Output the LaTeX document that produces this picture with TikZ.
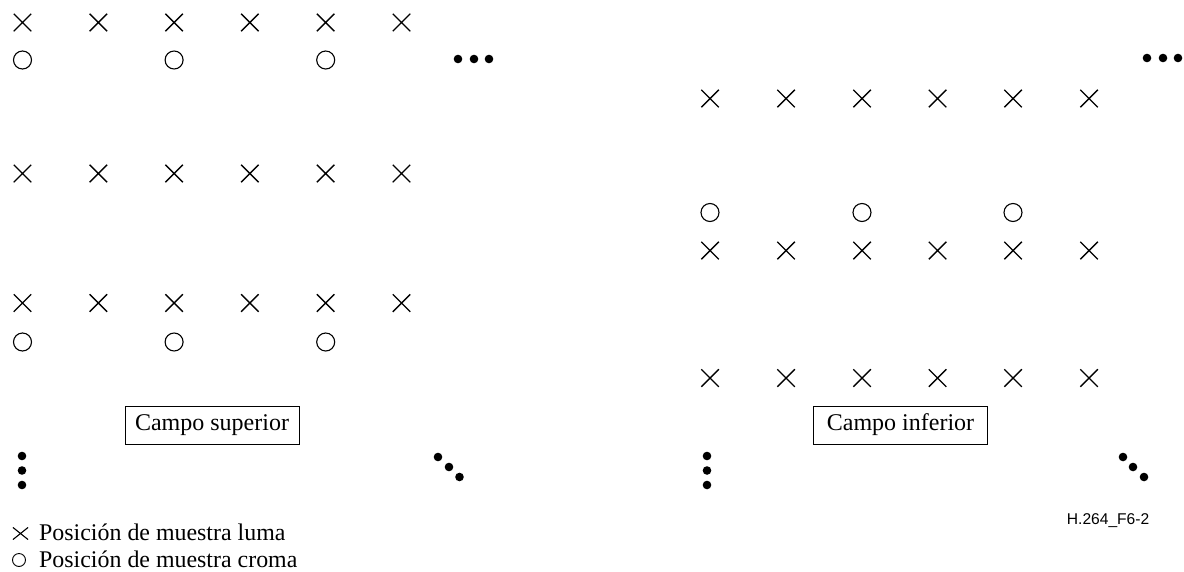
\documentclass[tikz,border=0pt]{standalone}
\usepackage{fontspec}
\setmainfont{Liberation Serif}
\newfontfamily\labelsans{Liberation Sans}
\usetikzlibrary{shapes.misc}
\tikzset{
  luma/.style={cross out, draw, line width=1.4pt, minimum size=17.5pt, inner sep=0pt, outer sep=0pt},
  croma/.style={circle, draw, line width=1.1pt, minimum size=18pt, inner sep=0pt, outer sep=0pt},
  dotmark/.style={circle, fill, minimum size=8.6pt, inner sep=0pt},
  fieldbox/.style={draw, line width=1pt, minimum width=174pt, minimum height=38pt, inner sep=0pt, font=\fontsize{24}{28}\selectfont},
  legendtext/.style={anchor=base west, inner sep=0pt, font=\fontsize{23.9}{28}\selectfont},
  legendluma/.style={cross out, draw, line width=1.1pt, minimum width=14pt, minimum height=11pt, inner sep=0pt},
  legendcroma/.style={circle, draw, line width=0.9pt, minimum size=13pt, inner sep=0pt},
  figlabel/.style={anchor=base west, inner sep=0pt, font=\labelsans\fontsize{15.6}{18}\selectfont}
}
\begin{document}
\begin{tikzpicture}[x=1pt,y=-1pt]
\useasboundingbox (0,0) rectangle (1184,571);
% ---- Campo superior (left) ----
\foreach \i/\x in {1/22.5,2/98.3,3/174.1,4/249.9,5/325.7,6/401.5} {
  \node[luma] (La\i) at (\x,22.5) {};
  \node[luma] (Lb\i) at (\x,173.5) {};
  \node[luma] (Lc\i) at (\x,303) {};
}
\foreach \i/\x in {1/22.5,2/174.1,3/325.7} {
  \node[croma] (LCa\i) at (\x,60) {};
  \node[croma] (LCb\i) at (\x,342) {};
}
\node[dotmark] (LH1) at (458,59) {};
\node[dotmark] (LH2) at (474,59) {};
\node[dotmark] (LH3) at (489,59) {};
\node[fieldbox] (sup) at (212,425) {Campo superior};
\node[dotmark] (LV1) at (22,456) {};
\node[dotmark] (LV2) at (22,470.5) {};
\node[dotmark] (LV3) at (22,485) {};
\node[dotmark] (LD1) at (438,457) {};
\node[dotmark] (LD2) at (449,467) {};
\node[dotmark] (LD3) at (459.5,477) {};
% ---- Campo inferior (right) ----
\foreach \i/\x in {1/710,2/786,3/862,4/937.5,5/1013,6/1089} {
  \node[luma] (Ra\i) at (\x,98.5) {};
  \node[luma] (Rb\i) at (\x,250.5) {};
  \node[luma] (Rc\i) at (\x,378) {};
}
\foreach \i/\x in {1/710,2/862,3/1013} {
  \node[croma] (RC\i) at (\x,212.5) {};
}
\node[dotmark] (RH1) at (1147,58) {};
\node[dotmark] (RH2) at (1163,58) {};
\node[dotmark] (RH3) at (1178,58) {};
\node[fieldbox] (inf) at (900.5,425) {Campo inferior};
\node[dotmark] (RV1) at (707,456) {};
\node[dotmark] (RV2) at (707,470.5) {};
\node[dotmark] (RV3) at (707,485) {};
\node[dotmark] (RD1) at (1123,457) {};
\node[dotmark] (RD2) at (1133,467) {};
\node[dotmark] (RD3) at (1144,477) {};
% ---- label ----
\node[figlabel] (fig) at (1066.7,524) {H.264\_F6-2};
% ---- legend ----
\node[legendluma] (kl) at (20.5,533.5) {};
\node[legendtext] (tl) at (39,540.5) {Posición de muestra luma};
\node[legendcroma] (kc) at (19,560) {};
\node[legendtext] (tc) at (39,567.5) {Posición de muestra croma};
\end{tikzpicture}
\end{document}
